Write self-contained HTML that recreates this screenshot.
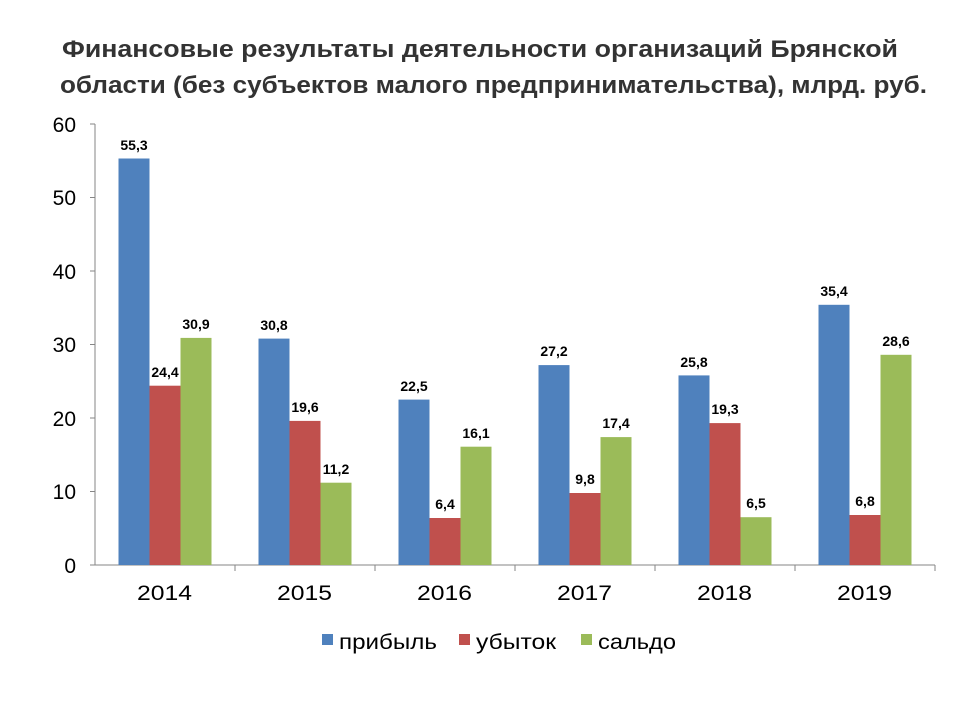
<!DOCTYPE html>
<html><head><meta charset="utf-8"><style>body{margin:0;background:#fff}svg{display:block}</style></head><body>
<svg width="960" height="720" xmlns="http://www.w3.org/2000/svg" font-family="Liberation Sans, Arial, sans-serif">
<rect width="960" height="720" fill="#fff"/>
<text x="62" y="57" font-size="24" font-weight="bold" fill="#333" textLength="836" lengthAdjust="spacingAndGlyphs">Финансовые результаты деятельности организаций Брянской</text>
<text x="60" y="93" font-size="24" font-weight="bold" fill="#333" textLength="867" lengthAdjust="spacingAndGlyphs">области  (без субъектов малого предпринимательства), млрд. руб.</text>
<g stroke="#868686" stroke-width="1">
<line x1="95" y1="124" x2="95" y2="565"/>
<line x1="95" y1="565" x2="935" y2="565"/>
<line x1="90" y1="124" x2="95" y2="124"/><line x1="90" y1="197.5" x2="95" y2="197.5"/><line x1="90" y1="271" x2="95" y2="271"/><line x1="90" y1="344.5" x2="95" y2="344.5"/><line x1="90" y1="418" x2="95" y2="418"/><line x1="90" y1="491.5" x2="95" y2="491.5"/><line x1="90" y1="565" x2="95" y2="565"/>
<line x1="235" y1="565" x2="235" y2="571"/><line x1="375" y1="565" x2="375" y2="571"/><line x1="515" y1="565" x2="515" y2="571"/><line x1="655" y1="565" x2="655" y2="571"/><line x1="795" y1="565" x2="795" y2="571"/><line x1="935" y1="565" x2="935" y2="571"/>
</g>
<g font-size="21" fill="#000" text-anchor="end">
<text x="76" y="132">60</text><text x="76" y="205">50</text><text x="76" y="279">40</text><text x="76" y="352">30</text><text x="76" y="426">20</text><text x="76" y="499">10</text><text x="76" y="573">0</text>
</g>
<g font-size="21" fill="#000">
<text x="137" y="600" textLength="55" lengthAdjust="spacingAndGlyphs">2014</text>
<text x="277" y="600" textLength="55" lengthAdjust="spacingAndGlyphs">2015</text>
<text x="417" y="600" textLength="55" lengthAdjust="spacingAndGlyphs">2016</text>
<text x="557" y="600" textLength="55" lengthAdjust="spacingAndGlyphs">2017</text>
<text x="697" y="600" textLength="55" lengthAdjust="spacingAndGlyphs">2018</text>
<text x="837" y="600" textLength="55" lengthAdjust="spacingAndGlyphs">2019</text>
</g>
<g>
<rect x="118.5" y="158.5" width="31" height="406.5" fill="#4F81BD"/>
<rect x="149.5" y="385.7" width="31" height="179.3" fill="#C0504D"/>
<rect x="180.5" y="337.9" width="31" height="227.1" fill="#9BBB59"/>
<rect x="258.5" y="338.6" width="31" height="226.4" fill="#4F81BD"/>
<rect x="289.5" y="420.9" width="31" height="144.1" fill="#C0504D"/>
<rect x="320.5" y="482.7" width="31" height="82.3" fill="#9BBB59"/>
<rect x="398.5" y="399.6" width="31" height="165.4" fill="#4F81BD"/>
<rect x="429.5" y="518" width="31" height="47" fill="#C0504D"/>
<rect x="460.5" y="446.7" width="31" height="118.3" fill="#9BBB59"/>
<rect x="538.5" y="365.1" width="31" height="199.9" fill="#4F81BD"/>
<rect x="569.5" y="493" width="31" height="72" fill="#C0504D"/>
<rect x="600.5" y="437.1" width="31" height="127.9" fill="#9BBB59"/>
<rect x="678.5" y="375.4" width="31" height="189.6" fill="#4F81BD"/>
<rect x="709.5" y="423.1" width="31" height="141.9" fill="#C0504D"/>
<rect x="740.5" y="517.2" width="31" height="47.8" fill="#9BBB59"/>
<rect x="818.5" y="304.8" width="31" height="260.2" fill="#4F81BD"/>
<rect x="849.5" y="515" width="31" height="50" fill="#C0504D"/>
<rect x="880.5" y="354.8" width="31" height="210.2" fill="#9BBB59"/>
</g>
<g font-size="14" font-weight="bold" fill="#000" text-anchor="middle">
<text x="134" y="150">55,3</text><text x="165" y="377">24,4</text><text x="196" y="329">30,9</text>
<text x="274" y="330">30,8</text><text x="305" y="412">19,6</text><text x="336" y="474">11,2</text>
<text x="414" y="391">22,5</text><text x="445" y="509">6,4</text><text x="476" y="438">16,1</text>
<text x="554" y="356">27,2</text><text x="585" y="484">9,8</text><text x="616" y="428">17,4</text>
<text x="694" y="367">25,8</text><text x="725" y="414">19,3</text><text x="756" y="508">6,5</text>
<text x="834" y="296">35,4</text><text x="865" y="506">6,8</text><text x="896" y="346">28,6</text>
</g>
<rect x="322" y="634" width="11" height="11" fill="#4F81BD"/><text x="339" y="649" font-size="21" textLength="98" lengthAdjust="spacingAndGlyphs">прибыль</text>
<rect x="459" y="634" width="11" height="11" fill="#C0504D"/><text x="476" y="649" font-size="21" textLength="80" lengthAdjust="spacingAndGlyphs">убыток</text>
<rect x="581" y="634" width="11" height="11" fill="#9BBB59"/><text x="598" y="649" font-size="21" textLength="78" lengthAdjust="spacingAndGlyphs">сальдо</text>
</svg>
</body></html>
